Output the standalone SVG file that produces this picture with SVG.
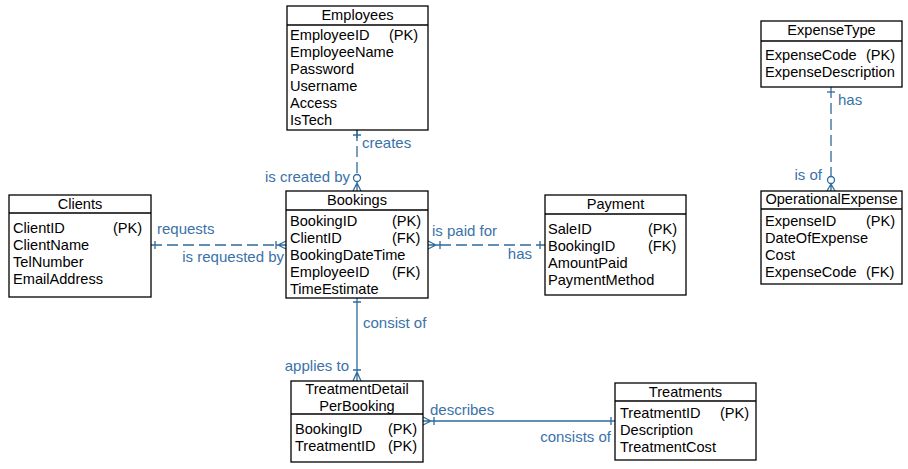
<svg xmlns="http://www.w3.org/2000/svg" width="908" height="469" viewBox="0 0 908 469">
<style>
.box{fill:#fff;stroke:#000;stroke-width:1.3}
.sep{stroke:#000;stroke-width:1.3}
.t{font-family:"Liberation Sans",Arial,sans-serif;font-size:14.6px;fill:#000}
.c{text-anchor:middle}
.lbl{font-family:"Liberation Sans",Arial,sans-serif;font-size:15px;fill:#3a72a8}
.r{text-anchor:end}
.ln{stroke:#2f6b9e;stroke-width:1.3;fill:none}
.d{stroke-dasharray:11,5}
</style>
<rect width="908" height="469" fill="#fff"/>

<g id="connectors">
  <!-- Employees - Bookings -->
  <path class="ln d" d="M357,130 V174"/>
  <path class="ln" d="M353,135 H361 M357,130 V138"/>
  <circle class="ln" cx="357" cy="178" r="3.5"/>
  <path class="ln" d="M357,182 V191 M357,183 L353,191 M357,183 L361,191"/>
  <text class="lbl" x="362" y="148">creates</text>
  <text class="lbl r" x="350" y="182">is created by</text>

  <!-- Clients - Bookings -->
  <path class="ln d" d="M151,245 H276"/>
  <path class="ln" d="M155,241 V249 M276,241 V249 M276,245 H286 M278,245 L286,241 M278,245 L286,249"/>
  <text class="lbl" x="157" y="234">requests</text>
  <text class="lbl r" x="284" y="262">is requested by</text>

  <!-- Bookings - Payment -->
  <path class="ln d" d="M440,245 H545"/>
  <path class="ln" d="M428,245 H440 M436,245 L428,241 M436,245 L428,249 M440,241 V249 M540,241 V249"/>
  <text class="lbl" x="432" y="236">is paid for</text>
  <text class="lbl r" x="532" y="259">has</text>

  <!-- ExpenseType - OperationalExpense -->
  <path class="ln d" d="M831,87 V176"/>
  <path class="ln" d="M827,92 H835"/>
  <circle class="ln" cx="831" cy="180" r="3.5"/>
  <path class="ln" d="M831,184 V191 M831,184 L827,191 M831,184 L835,191"/>
  <text class="lbl" x="838" y="105">has</text>
  <text class="lbl r" x="822" y="180">is of</text>

  <!-- Bookings - TreatmentDetailPerBooking -->
  <path class="ln" d="M357,298 V381 M353,302 H361 M353,370 H361 M357,372 L353,381 M357,372 L361,381"/>
  <text class="lbl" x="363" y="328">consist of</text>
  <text class="lbl r" x="349" y="371">applies to</text>

  <!-- TreatmentDetailPerBooking - Treatments -->
  <path class="ln" d="M423,421 H615 M431,421 L423,417 M431,421 L423,425 M434,417 V425 M611,417 V425"/>
  <text class="lbl" x="430" y="415">describes</text>
  <text class="lbl r" x="611" y="442">consists of</text>
</g>

<g id="Employees">
  <rect class="box" x="287" y="6" width="141" height="124"/>
  <line class="sep" x1="287" y1="25" x2="428" y2="25"/>
  <text class="t c" x="357.5" y="20">Employees</text>
  <text class="t" x="290" y="40">EmployeeID</text><text class="t" x="389" y="40">(PK)</text>
  <text class="t" x="290" y="57">EmployeeName</text>
  <text class="t" x="290" y="74">Password</text>
  <text class="t" x="290" y="91">Username</text>
  <text class="t" x="290" y="108">Access</text>
  <text class="t" x="290" y="125">IsTech</text>
</g>

<g id="Bookings">
  <rect class="box" x="286" y="191" width="142" height="107"/>
  <line class="sep" x1="286" y1="210" x2="428" y2="210"/>
  <text class="t c" x="357" y="205">Bookings</text>
  <text class="t" x="290" y="226">BookingID</text><text class="t" x="392" y="226">(PK)</text>
  <text class="t" x="290" y="243">ClientID</text><text class="t" x="392" y="243">(FK)</text>
  <text class="t" x="290" y="260">BookingDateTime</text>
  <text class="t" x="290" y="277">EmployeeID</text><text class="t" x="392" y="277">(FK)</text>
  <text class="t" x="290" y="294">TimeEstimate</text>
</g>

<g id="Clients">
  <rect class="box" x="9" y="195" width="142" height="102"/>
  <line class="sep" x1="9" y1="213" x2="151" y2="213"/>
  <text class="t c" x="80" y="209">Clients</text>
  <text class="t" x="13" y="233">ClientID</text><text class="t" x="113" y="233">(PK)</text>
  <text class="t" x="13" y="250">ClientName</text>
  <text class="t" x="13" y="267">TelNumber</text>
  <text class="t" x="13" y="284">EmailAddress</text>
</g>

<g id="Payment">
  <rect class="box" x="545" y="195" width="141" height="100"/>
  <line class="sep" x1="545" y1="214" x2="686" y2="214"/>
  <text class="t c" x="615.5" y="209">Payment</text>
  <text class="t" x="548" y="234">SaleID</text><text class="t" x="648" y="234">(PK)</text>
  <text class="t" x="548" y="251">BookingID</text><text class="t" x="648" y="251">(FK)</text>
  <text class="t" x="548" y="268">AmountPaid</text>
  <text class="t" x="548" y="285">PaymentMethod</text>
</g>

<g id="ExpenseType">
  <rect class="box" x="761" y="21" width="141" height="66"/>
  <line class="sep" x1="761" y1="41" x2="902" y2="41"/>
  <text class="t c" x="831.5" y="35">ExpenseType</text>
  <text class="t" x="765" y="60">ExpenseCode</text><text class="t" x="866" y="60">(PK)</text>
  <text class="t" x="765" y="77">ExpenseDescription</text>
</g>

<g id="OperationalExpense">
  <rect class="box" x="761" y="191" width="141" height="93"/>
  <line class="sep" x1="761" y1="209" x2="902" y2="209"/>
  <text class="t c" x="831.5" y="204">OperationalExpense</text>
  <text class="t" x="765" y="226">ExpenseID</text><text class="t" x="866" y="226">(PK)</text>
  <text class="t" x="765" y="243">DateOfExpense</text>
  <text class="t" x="765" y="260">Cost</text>
  <text class="t" x="765" y="277">ExpenseCode</text><text class="t" x="866" y="277">(FK)</text>
</g>

<g id="TreatmentDetailPerBooking">
  <rect class="box" x="291" y="381" width="132" height="81"/>
  <line class="sep" x1="291" y1="414" x2="423" y2="414"/>
  <text class="t c" x="357" y="394">TreatmentDetail</text>
  <text class="t c" x="357" y="411">PerBooking</text>
  <text class="t" x="295" y="434">BookingID</text><text class="t" x="388" y="434">(PK)</text>
  <text class="t" x="295" y="451">TreatmentID</text><text class="t" x="388" y="451">(PK)</text>
</g>

<g id="Treatments">
  <rect class="box" x="615" y="383" width="141" height="77"/>
  <line class="sep" x1="615" y1="401" x2="756" y2="401"/>
  <text class="t c" x="685.5" y="397">Treatments</text>
  <text class="t" x="620" y="418">TreatmentID</text><text class="t" x="720" y="418">(PK)</text>
  <text class="t" x="620" y="435">Description</text>
  <text class="t" x="620" y="452">TreatmentCost</text>
</g>
</svg>
